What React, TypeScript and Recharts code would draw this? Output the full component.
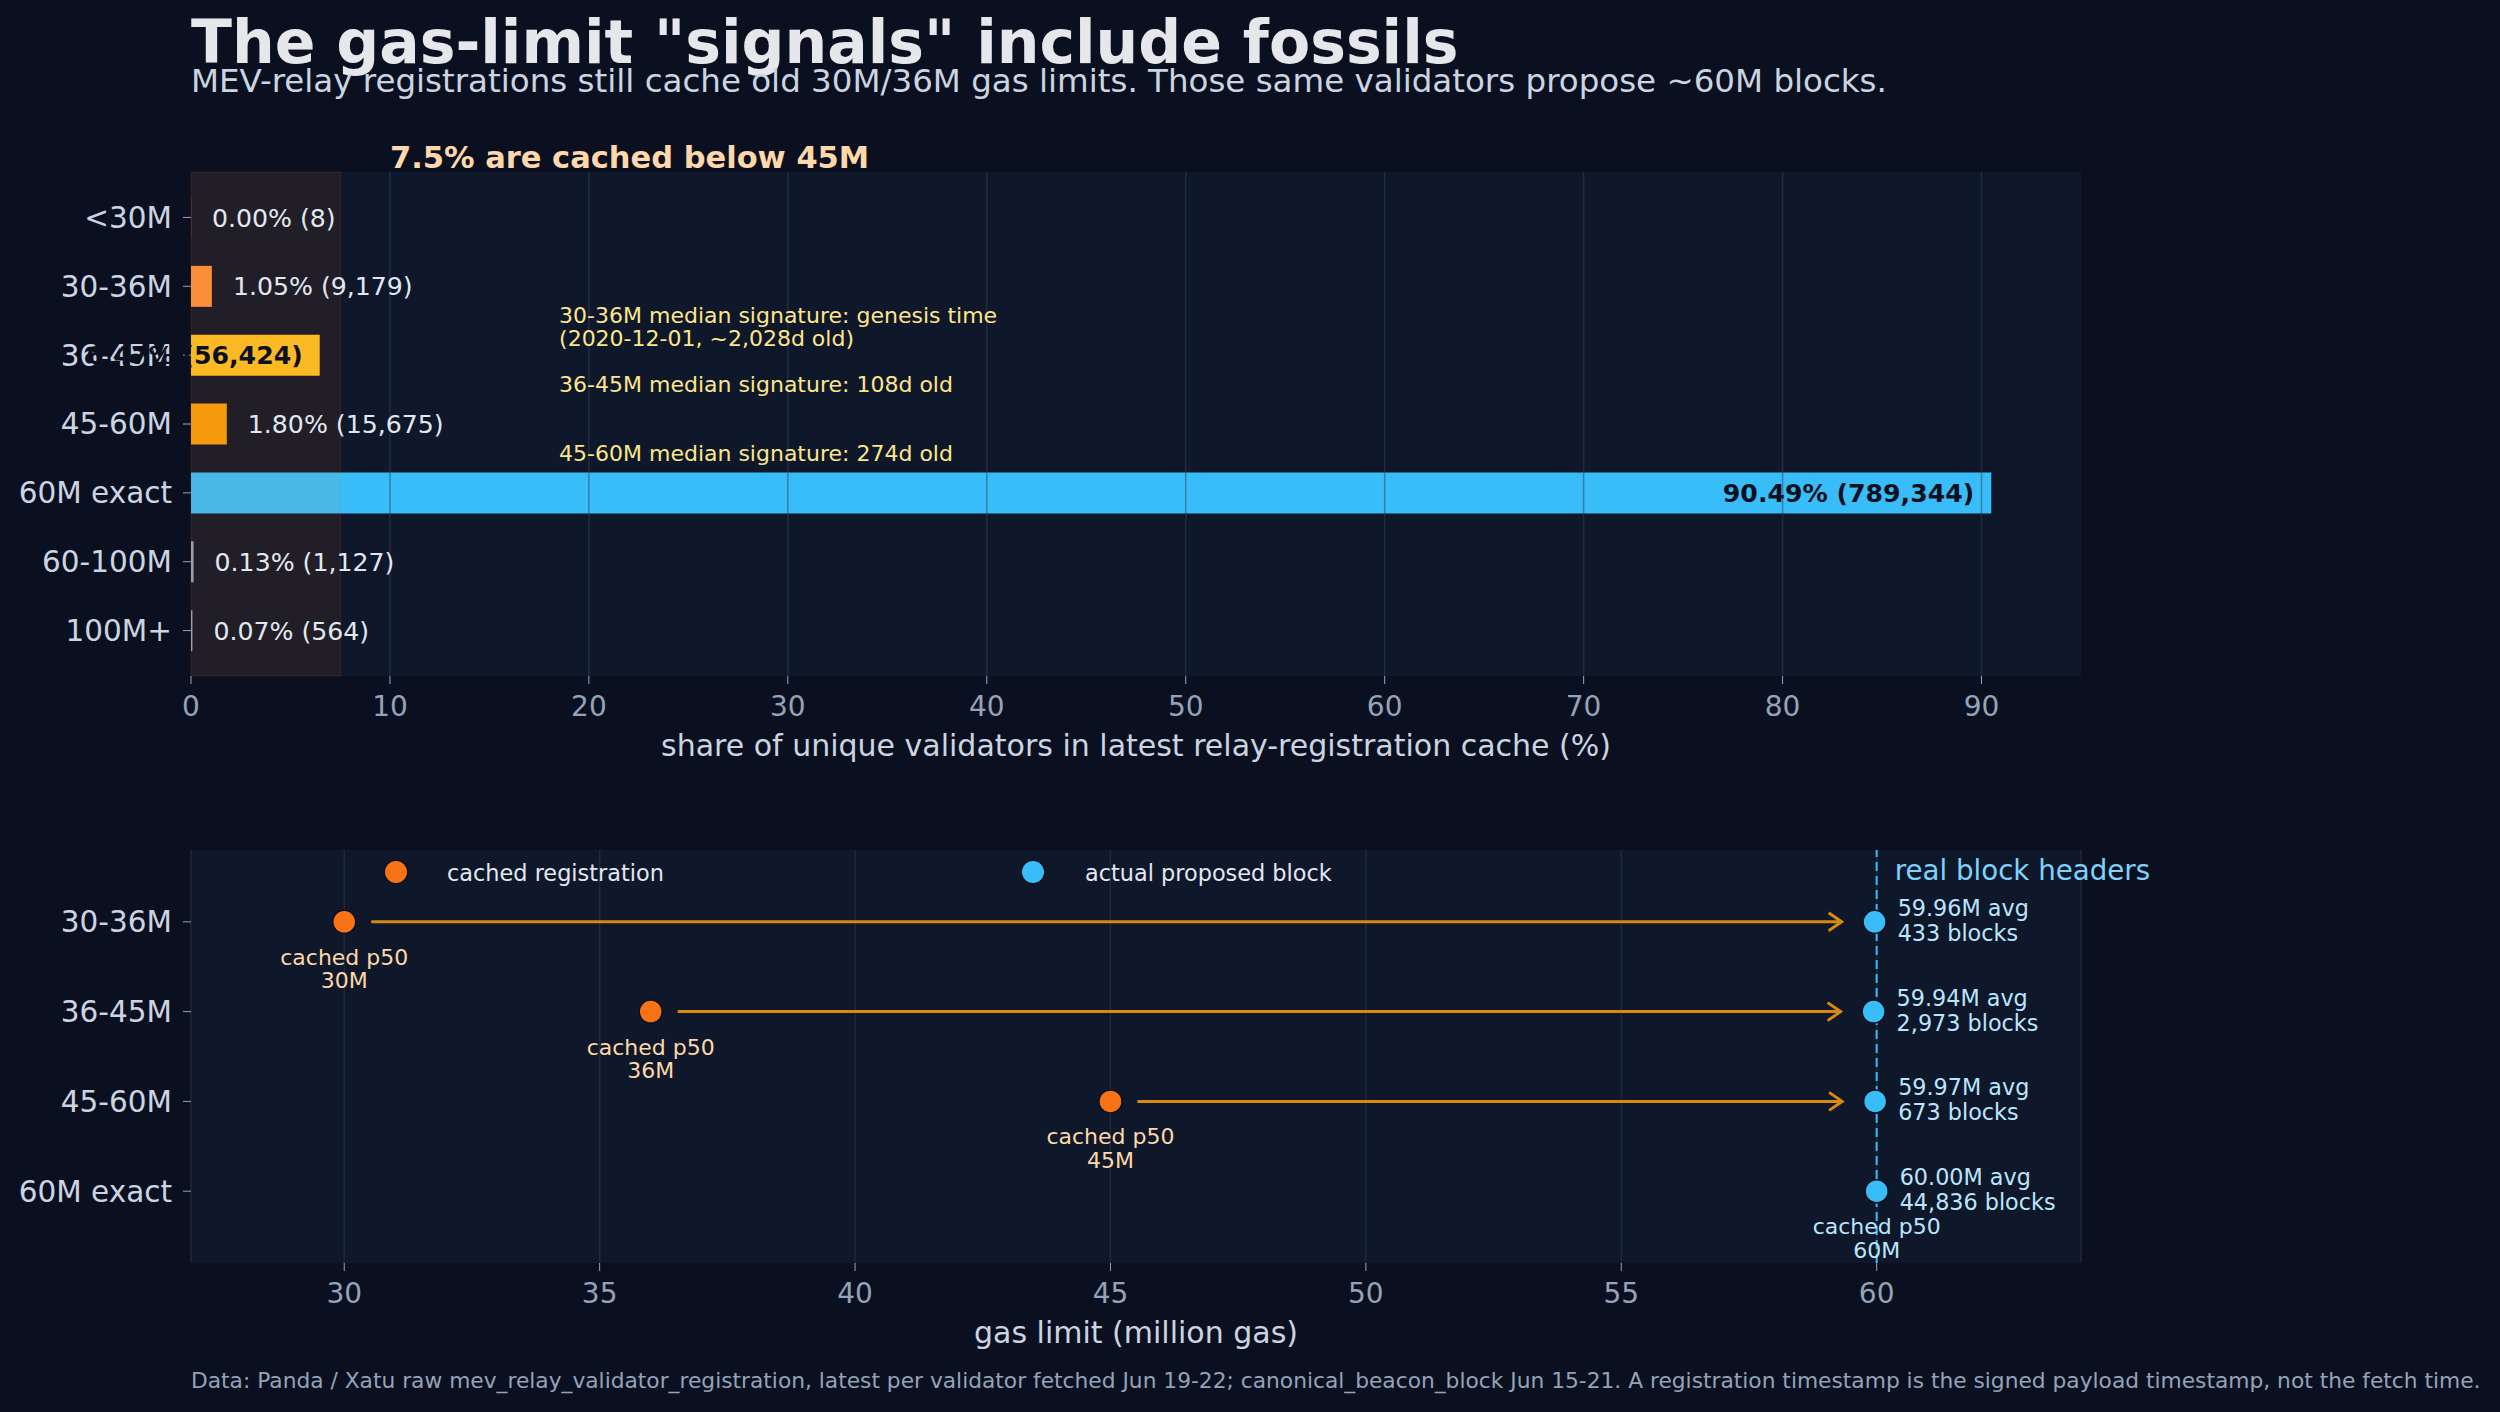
import React from 'react';
import {
  BarChart,
  Bar,
  Cell,
  LabelList,
  XAxis,
  YAxis,
  CartesianGrid,
  ReferenceArea,
  ReferenceLine,
  ReferenceDot,
  ScatterChart,
  Scatter,
  Legend,
} from 'recharts';

const FONT = '"DejaVu Sans", "Liberation Sans", sans-serif';
const BG = '#0b1020';
const PANEL = '#0f172a';

// latest relay-registration cache, by cached gas limit
const buckets = ['<30M', '30-36M', '36-45M', '45-60M', '60M exact', '60-100M', '100M+'];
const sharePct = [0.0, 1.05, 6.47, 1.8, 90.49, 0.13, 0.07];
const validatorCounts = [8, 9179, 56424, 15675, 789344, 1127, 564];
const bucketColors = ['#ef4444', '#fb923c', '#fbbf24', '#f59e0b', '#38bdf8', '#94a3b8', '#94a3b8'];
const shareTicks = [0, 10, 20, 30, 40, 50, 60, 70, 80, 90];

// median signature age per stale bucket
const ageNoteRows = [1, 2, 3];
const ageNoteText = [
  ['30-36M median signature: genesis time', '(2020-12-01, ~2,028d old)'],
  ['36-45M median signature: 108d old'],
  ['45-60M median signature: 274d old'],
];

// cached p50 vs what the same validators actually propose
const proposalBuckets = ['30-36M', '36-45M', '45-60M', '60M exact'];
const cachedP50 = [30, 36, 45, 60];
const actualAvg = [59.96, 59.94, 59.97, 60.0];
const blockCounts = [433, 2973, 673, 44836];
const gasTicks = [30, 35, 40, 45, 50, 55, 60];

const shareRows = buckets.map((name, i) => ({ name, share: sharePct[i], count: validatorCounts[i] }));
const staleShare = sharePct[0] + sharePct[1] + sharePct[2];

const cachedPoints = proposalBuckets.map((name, i) => ({ name, x: cachedP50[i], y: i }));
const actualPoints = proposalBuckets.map((name, i) => ({ name, x: actualAvg[i], y: i, blocks: blockCounts[i] }));

// top panel geometry: the category band and the padding around the rows
const TOP_PLOT_H = 504;
const ROW_PAD = 11;
const BAND = (TOP_PLOT_H - 2 * ROW_PAD) / buckets.length;

const fmt = (n: number) => n.toLocaleString('en-US');

const shareLabel = (p: any) => {
  const i = buckets.indexOf(p.value);
  if (i < 0) return null;
  const x = Number(p.x);
  const y = Number(p.y);
  const h = Number(p.height);
  const share = sharePct[i];
  const w = share > 0 ? Number(p.width) : 0;
  const text = `${share.toFixed(2)}% (${fmt(validatorCounts[i])})`;
  const cy = y + h / 2;
  if (share > 5) {
    return (
      <text x={x + w - 17} y={cy} dy="0.36em" textAnchor="end" fill={BG} fontSize={25.2} fontWeight="bold">
        {text}
      </text>
    );
  }
  return (
    <text x={x + w + 21} y={cy} dy="0.36em" fill="#e2e8f0" fontSize={25.2}>
      {text}
    </text>
  );
};

// note text sits a little below its row, measured in row bands
const noteShape = (lines: string[]) => (p: any) => {
  const y = p.cy + 0.42 * BAND;
  return (
    <text x={p.cx} y={y} fill="#fde68a" fontSize={22}>
      {lines.map((line, k) => (
        <tspan key={k} x={p.cx} dy={k === 0 ? '0.36em' : 22.4}>
          {line}
        </tspan>
      ))}
    </text>
  );
};

const headlineShape = (p: any) => (
  <text x={p.cx} y={p.cy - 0.718 * BAND} fill="#fed7aa" fontSize={30.5} fontWeight="bold">
    {`${staleShare.toFixed(1)}% are cached below 45M`}
  </text>
);

// shading spans the full panel height, including the row padding
const shadeShape = (p: any) => (
  <rect
    x={p.x}
    y={p.y - ROW_PAD}
    width={p.width}
    height={p.height + 2 * ROW_PAD}
    fill="#f97316"
    fillOpacity={0.08}
    stroke="#f97316"
    strokeOpacity={0.12}
  />
);

const cachedShape = (p: any) => {
  const { cx, cy, payload } = p;
  const onTarget = payload.x >= 60;
  return (
    <g>
      <circle cx={cx} cy={cy} r={11.5} fill="#f97316" stroke={BG} strokeWidth={1.5} />
      <text x={cx} y={cy + 43} textAnchor="middle" fill={onTarget ? '#bae6fd' : '#fed7aa'} fontSize={22}>
        <tspan x={cx}>cached p50</tspan>
        <tspan x={cx} dy={23.5}>{`${payload.x}M`}</tspan>
      </text>
    </g>
  );
};

const actualShape = (p: any) => {
  const { cx, cy, payload } = p;
  return (
    <g>
      <circle cx={cx} cy={cy} r={11.5} fill="#38bdf8" stroke={BG} strokeWidth={1.5} />
      <text x={cx + 23} y={cy - 6} fill="#bae6fd" fontSize={22.3}>
        <tspan x={cx + 23}>{`${payload.x.toFixed(2)}M avg`}</tspan>
        <tspan x={cx + 23} dy={25}>{`${fmt(payload.blocks)} blocks`}</tspan>
      </text>
    </g>
  );
};

// arrow from the cached value to the proposed value, trimmed clear of both dots
const arrowShape = (p: any) => {
  const { x1, y1, x2, y2 } = p;
  const sx = x1 + 27;
  const ex = x2 - 33;
  const c = '#d8890e';
  return (
    <g>
      <line x1={sx} y1={y1} x2={ex} y2={y2} stroke={c} strokeWidth={3} />
      <polyline
        points={`${ex - 13},${y2 - 9} ${ex},${y2} ${ex - 13},${y2 + 9}`}
        fill="none"
        stroke={c}
        strokeWidth={3}
      />
    </g>
  );
};

const LegendItems = () => (
  <div style={{ position: 'relative', width: 2500, height: 100, fontFamily: FONT }}>
    {[
      { dot: 385, text: 447, color: '#f97316', label: 'cached registration' },
      { dot: 1022, text: 1085, color: '#38bdf8', label: 'actual proposed block' },
    ].map((it) => (
      <React.Fragment key={it.label}>
        <div
          style={{
            position: 'absolute',
            left: it.dot,
            top: 61,
            width: 22,
            height: 22,
            borderRadius: '50%',
            background: it.color,
            boxShadow: `0 0 0 1.5px ${BG}`,
          }}
        />
        <div
          style={{
            position: 'absolute',
            left: it.text,
            top: 61.5,
            fontSize: 22.4,
            lineHeight: 1,
            color: '#e2e8f0',
            whiteSpace: 'nowrap',
          }}
        >
          {it.label}
        </div>
      </React.Fragment>
    ))}
  </div>
);

export default function App() {
  return (
    <div
      style={{
        position: 'absolute',
        left: 0,
        top: 0,
        width: 2500,
        height: 1412,
        background: BG,
        fontFamily: FONT,
        overflow: 'hidden',
      }}
    >
      <div
        style={{
          position: 'absolute',
          left: 191,
          top: 12,
          fontSize: 60,
          fontWeight: 'bold',
          lineHeight: 1,
          color: '#e5e7eb',
          whiteSpace: 'nowrap',
        }}
      >
        The gas-limit "signals" include fossils
      </div>
      <div
        style={{
          position: 'absolute',
          left: 191,
          top: 64.5,
          fontSize: 32.5,
          lineHeight: 1,
          color: '#cbd5e1',
          whiteSpace: 'nowrap',
        }}
      >
        MEV-relay registrations still cache old 30M/36M gas limits. Those same validators propose ~60M blocks.
      </div>

      <div style={{ position: 'absolute', left: 0, top: 0 }}>
        <BarChart
          width={2500}
          height={800}
          data={shareRows}
          layout="vertical"
          margin={{ top: 172, right: 419, bottom: 34, left: 0 }}
        >
          <CartesianGrid fill={PANEL} horizontal={false} vertical={false} />
          <XAxis
            type="number"
            domain={[0, 95]}
            ticks={shareTicks}
            axisLine={false}
            tickSize={8}
            tickMargin={12}
            tickLine={{ stroke: '#94a3b8' }}
            tick={{ fill: '#94a3b8', fontSize: 28 }}
            height={90}
            label={(p: any) => (
              <text
                x={p.viewBox.x + p.viewBox.width / 2}
                y={p.viewBox.y + 80}
                textAnchor="middle"
                fill="#cbd5e1"
                fontSize={30}
              >
                share of unique validators in latest relay-registration cache (%)
              </text>
            )}
          />
          <YAxis
            type="category"
            dataKey="name"
            width={191}
            interval={0}
            axisLine={false}
            tickSize={8}
            tickMargin={11}
            tickLine={{ stroke: '#94a3b8' }}
            tick={{ fill: '#cbd5e1', fontSize: 29.5 }}
            padding={{ top: ROW_PAD, bottom: ROW_PAD }}
          />
          <Bar dataKey="share" barSize={41} minPointSize={0.2} isAnimationActive={false}>
            {shareRows.map((r, i) => (
              <Cell key={r.name} fill={bucketColors[i]} />
            ))}
            <LabelList dataKey="name" content={shareLabel} />
          </Bar>
          {shareTicks.slice(1).map((t) => (
            <ReferenceLine key={t} x={t} stroke="#334155" strokeOpacity={0.5} strokeWidth={1.5} zIndex={340} />
          ))}
          <ReferenceArea x1={0} x2={staleShare} shape={shadeShape} zIndex={350} />
          <ReferenceDot x={10} y={buckets[0]} ifOverflow="visible" shape={headlineShape} />
          {ageNoteRows.map((row, k) => (
            <ReferenceDot key={row} x={18.5} y={buckets[row]} ifOverflow="visible" shape={noteShape(ageNoteText[k])} />
          ))}
        </BarChart>
      </div>

      <div style={{ position: 'absolute', left: 0, top: 800 }}>
        <ScatterChart width={2500} height={560} margin={{ top: 50, right: 419, bottom: 7, left: 0 }}>
          <CartesianGrid fill={PANEL} stroke="#1e293b" strokeWidth={1.5} horizontal={false} />
          <XAxis
            type="number"
            dataKey="x"
            domain={[27, 64]}
            ticks={gasTicks}
            allowDataOverflow
            axisLine={false}
            tickSize={8}
            tickMargin={12}
            tickLine={{ stroke: '#94a3b8' }}
            tick={{ fill: '#94a3b8', fontSize: 28 }}
            height={90}
            label={(p: any) => (
              <text
                x={p.viewBox.x + p.viewBox.width / 2}
                y={p.viewBox.y + 80}
                textAnchor="middle"
                fill="#cbd5e1"
                fontSize={30}
              >
                gas limit (million gas)
              </text>
            )}
          />
          <YAxis
            type="number"
            dataKey="y"
            domain={[-0.8, 3.8]}
            ticks={[0, 1, 2, 3]}
            reversed
            width={191}
            axisLine={false}
            tickSize={8}
            tickMargin={11}
            tickLine={{ stroke: '#94a3b8' }}
            tick={{ fill: '#cbd5e1', fontSize: 29.5 }}
            tickFormatter={(v: number) => proposalBuckets[v] ?? ''}
          />
          <Legend
            layout="horizontal"
            verticalAlign="middle"
            content={() => <LegendItems />}
            wrapperStyle={{ position: 'absolute', left: 0, top: 0, width: 2500, height: 100 }}
          />
          <ReferenceLine
            x={60}
            stroke="#38bdf8"
            strokeWidth={2}
            strokeDasharray="9 5"
            label={(p: any) => (
              <text x={p.viewBox.x + 18} y={p.viewBox.y + 30} fill="#7dd3fc" fontSize={27.7}>
                real block headers
              </text>
            )}
          />
          {proposalBuckets.map((name, i) =>
            actualAvg[i] - cachedP50[i] > 1 ? (
              <ReferenceLine
                key={name}
                segment={[
                  { x: cachedP50[i], y: i },
                  { x: actualAvg[i], y: i },
                ]}
                shape={arrowShape}
              />
            ) : null
          )}
          <Scatter name="cached registration" data={cachedPoints} shape={cachedShape} isAnimationActive={false} />
          <Scatter name="actual proposed block" data={actualPoints} shape={actualShape} isAnimationActive={false} />
        </ScatterChart>
      </div>

      <div
        style={{
          position: 'absolute',
          left: 191,
          top: 1369.5,
          fontSize: 21.75,
          lineHeight: 1,
          color: '#94a3b8',
          whiteSpace: 'nowrap',
        }}
      >
        Data: Panda / Xatu raw mev_relay_validator_registration, latest per validator fetched Jun 19-22;
        canonical_beacon_block Jun 15-21. A registration timestamp is the signed payload timestamp, not the fetch time.
      </div>
    </div>
  );
}
